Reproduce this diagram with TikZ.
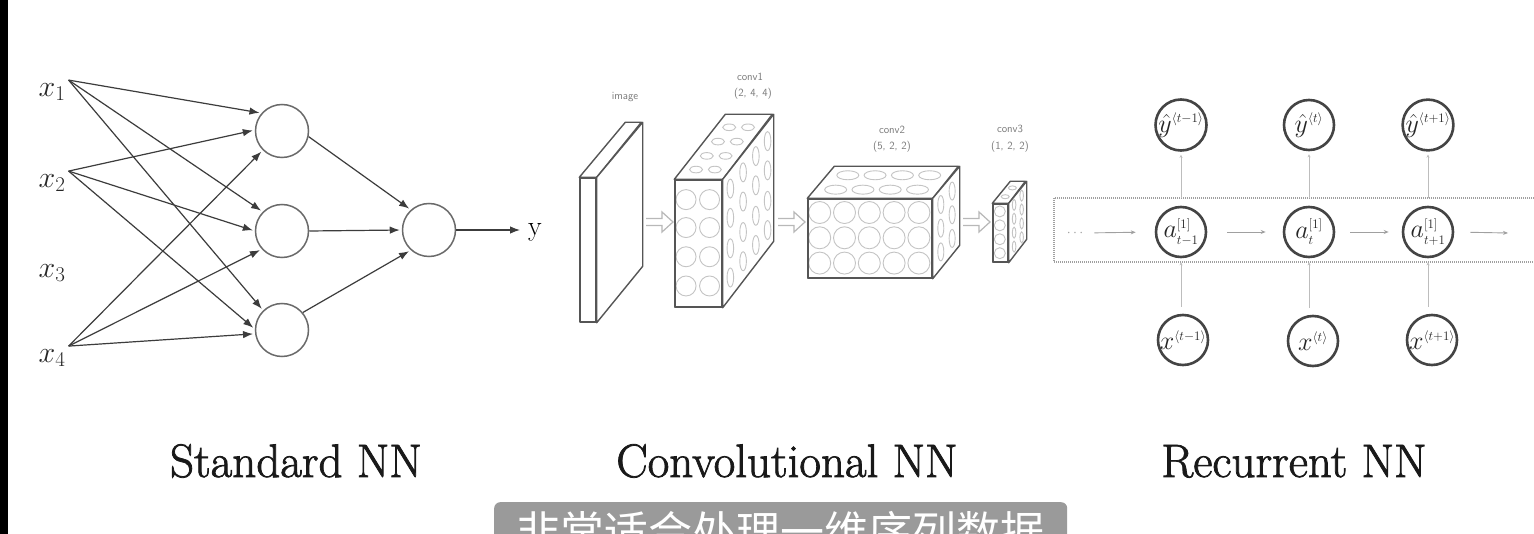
\RequirePackage{fix-cm}
\documentclass[tikz,border=0pt]{standalone}
\usepackage{fontspec}
\newfontfamily\cjk{Noto Sans CJK SC}
\newfontfamily\titlefont{Latin Modern Roman}[FakeBold=1.6]
\usetikzlibrary{arrows.meta,calc}
\DeclareMathSizes{30}{30}{21}{15}
\DeclareMathSizes{26}{26}{13}{10}
\definecolor{nline}{HTML}{3C3C3C}
\definecolor{ncirc}{HTML}{6A6A6A}
\definecolor{cedge}{HTML}{555555}
\definecolor{ccell}{HTML}{C4C4C4}
\definecolor{clabc}{HTML}{7A7A7A}
\definecolor{harrowc}{HTML}{B8B8B8}
\definecolor{rcirc}{HTML}{444444}
\definecolor{rthin}{HTML}{A0A0A0}
\definecolor{capfill}{HTML}{9A9A9A}
\begin{document}
\begin{tikzpicture}[x=1pt,y=-1pt,
  inlab/.style={inner sep=3pt, font=\fontsize{30}{34}\selectfont, text=black!85},
  neuron/.style={circle, draw=ncirc, line width=1.5pt, minimum size=53pt, inner sep=0pt},
  syn/.style={draw=nline, line width=1.2pt, -{Latex[length=10pt,width=7.5pt]}, shorten >=2pt},
  face/.style={draw=cedge, line width=1.4pt, fill=white, line join=round},
  frontface/.style={face, rectangle, inner sep=0pt},
  cell/.style={draw=ccell, line width=0.9pt},
  clab/.style={font=\sffamily\fontsize{11}{13}\selectfont, text=clabc, inner sep=0pt},
  hollow/.style={draw=harrowc, line width=1.2pt, line join=miter},
  title/.style={font=\titlefont\fontsize{47}{56}\selectfont, text=black!90, anchor=base, inner sep=0pt},
  rnode/.style={circle, draw=rcirc, line width=2.6pt, minimum size=50pt, inner sep=0pt, text=black!85, font=\fontsize{26}{30}\selectfont},
  rarr/.style={draw=rthin, line width=0.9pt, -{Stealth[length=5pt,width=4pt]}},
  rvert/.style={draw=rthin!70, line width=0.8pt, -{Stealth[length=3pt,width=3pt]}},
  rdot/.style={draw=rthin, line width=1.2pt, dash pattern=on 1pt off 1pt},
]
\useasboundingbox (0,0) rectangle (1534,534);
\clip (0,0) rectangle (1534,534);
\fill[white] (0,0) rectangle (1534,534);
\fill[black] (0,0) rectangle (8,534);

% ---------------- Standard NN ----------------
\node[inlab] (x1) at (52,92) {$x_1$};
\node[inlab] (x2) at (52,183) {$x_2$};
\node[inlab] (x3) at (52,273) {$x_3$};
\node[inlab] (x4) at (52,358) {$x_4$};
\node[neuron] (h1) at (282,131) {};
\node[neuron] (h2) at (282,231) {};
\node[neuron] (h3) at (282,330) {};
\node[neuron] (o) at (429,230) {};
\node[inner sep=0pt, font=\fontsize{28}{32}\selectfont] (ylab) at (535,232) {y};

\draw[syn] (x1.north east) -- (h1.139);
\draw[syn] (x1.north east) -- (h2.135);
\draw[syn] (x1.north east) -- (h3.134);
\draw[syn] (x2.north east) -- (h1.178);
\draw[syn] (x2.north east) -- (h2.180);
\draw[syn] (x2.north east) -- (h3.178);
\draw[syn] (x4.north east) -- (h1.225);
\draw[syn] (x4.north east) -- (h2.222);
\draw[syn] (x4.north east) -- (h3.188);
\draw[syn] (h1.-12) -- (o.132);
\draw[syn] (h2.east) -- (o.west);
\draw[syn] (h3.40) -- (o.228);
\draw[syn, shorten >=8pt] (o.east) -- (o.east -| ylab.west);

% ---------------- Convolutional NN ----------------
% image slab
\node[frontface, minimum width=16pt, minimum height=144pt] (img) at (588,250) {};
\draw[face] (img.north west) -- ++(46,-55) -- ++(16,0) -- (img.north east) -- cycle;
\draw[face] (img.north east) -- ++(46,-55) -- ++(0,144) -- (img.south east) -- cycle;

% conv1
\node[frontface, minimum width=47pt, minimum height=127pt] (c1) at (698.5,243.5) {};
\draw[face] (c1.north west) -- ++(51,-65) -- ++(47,0) -- (c1.north east) -- cycle;
\draw[face] (c1.north east) -- ++(51,-65) -- ++(0,127) -- (c1.south east) -- cycle;
\foreach \p in {0.25,0.75}
  \foreach \q in {0.16,0.38,0.61,0.84}
    \draw[cell] ($(c1.north west)+(\p*47,\q*127)$) circle[radius=10pt];
\foreach \p in {0.3,0.7}
  \foreach \q in {0.15,0.36,0.58,0.8}
    \draw[cell] ($(c1.north west)+(\p*47+\q*51,-\q*65)$) ellipse[x radius=6.5pt, y radius=3.3pt];
\foreach \p in {0.15,0.4,0.65,0.88}
  \foreach \q in {0.15,0.38,0.62,0.85}
    \draw[cell] ($(c1.north east)+(\p*51,-\p*65+\q*127)$) ellipse[x radius=3.3pt, y radius=9.5pt];
\node[frontface, fill=none, minimum width=47pt, minimum height=127pt] at (c1) {};

% conv2
\node[frontface, minimum width=124pt, minimum height=79pt] (c2) at (870,238.5) {};
\draw[face] (c2.north west) -- ++(27,-32) -- ++(124,0) -- (c2.north east) -- cycle;
\draw[face] (c2.north east) -- ++(27,-32) -- ++(0,79) -- (c2.south east) -- cycle;
\foreach \p in {0.1,0.3,0.5,0.7,0.9}
  \foreach \q in {0.18,0.5,0.82}
    \draw[cell] ($(c2.north west)+(\p*124,\q*79)$) circle[radius=11pt];
\foreach \p in {0.17,0.39,0.61,0.83}
  \foreach \q in {0.27,0.72}
    \draw[cell] ($(c2.north west)+(\p*124+\q*27,-\q*32)$) ellipse[x radius=11pt, y radius=4.5pt];
\foreach \p in {0.3,0.72}
  \foreach \q in {0.2,0.5,0.8}
    \draw[cell] ($(c2.north east)+(\p*27,-\p*32+\q*79)$) ellipse[x radius=3pt, y radius=9pt];
\node[frontface, fill=none, minimum width=124pt, minimum height=79pt] at (c2) {};

% conv3
\node[frontface, minimum width=15pt, minimum height=58pt] (c3) at (1000.5,233) {};
\draw[face] (c3.north west) -- ++(18,-22) -- ++(15,0) -- (c3.north east) -- cycle;
\draw[face] (c3.north east) -- ++(18,-22) -- ++(0,58) -- (c3.south east) -- cycle;
\foreach \q in {0.14,0.38,0.62,0.86}
  \draw[cell] ($(c3.north west)+(7.5,\q*58)$) circle[radius=5.5pt];
\foreach \q in {0.3,0.7}
  \draw[cell] ($(c3.north west)+(7.5+\q*18,-\q*22)$) ellipse[x radius=4pt, y radius=2pt];
\foreach \p in {0.3,0.72}
  \foreach \q in {0.14,0.38,0.62,0.86}
    \draw[cell] ($(c3.north east)+(\p*18,-\p*22+\q*58)$) ellipse[x radius=1.8pt, y radius=5.5pt];
\node[frontface, fill=none, minimum width=15pt, minimum height=58pt] at (c3) {};

% labels
\node[clab] (limg) at (625,97) {image};
\node[clab] (lc1a) at (750,77) {conv1};
\node[clab] (lc1b) at (753,94) {(2, 4, 4)};
\node[clab] (lc2a) at (892,130) {conv2};
\node[clab] (lc2b) at (892,147) {(5, 2, 2)};
\node[clab] (lc3a) at (1010,129) {conv3};
\node[clab] (lc3b) at (1010,147) {(1, 2, 2)};

% hollow arrows (open block arrows between the layers)
\coordinate (ha1s) at (646,222);
\coordinate (ha2s) at (778,222);
\coordinate (ha3s) at (963,222);
\foreach \s in {ha1s,ha2s,ha3s}
  \draw[hollow] (\s) ++(0,-3.5) -- ++(16,0) -- ++(0,-6.5) -- ++(11,10) -- ++(-11,10) -- ++(0,-6.5) -- ++(-16,0);

% ---------------- Recurrent NN ----------------
\draw[rdot] (1570,198) -- (1054,198) -- (1054,262) -- (1570,262);
\node[rnode] (yh1) at (1181,125) {$\hat y^{\langle t-1\rangle}$};
\node[rnode] (yh2) at (1309,125) {$\hat y^{\langle t\rangle}$};
\node[rnode] (yh3) at (1428,125) {$\hat y^{\langle t+1\rangle}$};
\node[rnode] (a1) at (1181,232) {$a^{[1]}_{t-1}$};
\node[rnode] (a2) at (1309,232) {$a^{[1]}_{t}$};
\node[rnode] (a3) at (1428,232) {$a^{[1]}_{t+1}$};
\node[rnode] (xx1) at (1183,340) {$x^{\langle t-1\rangle}$};
\node[rnode] (xx2) at (1313,341) {$x^{\langle t\rangle}$};
\node[rnode] (xx3) at (1432,340) {$x^{\langle t+1\rangle}$};
\node[inner sep=1pt, text=rthin, font=\fontsize{14}{16}\selectfont] (dots) at (1075,233) {$\cdots$};
\coordinate (aend) at (1508,233);

\draw[rarr, shorten <=10pt, shorten >=19pt] (dots.east) -- (a1.west);
\draw[rarr, shorten <=20pt, shorten >=17pt] (a1.east) -- (a2.west);
\draw[rarr, shorten <=15pt, shorten >=13pt] (a2.east) -- (a3.west);
\draw[rarr, shorten <=16pt] (a3.east) -- (aend);

\draw[rvert, shorten <=8pt, shorten >=3pt] (a1.north) -- (yh1.south);
\draw[rvert, shorten <=8pt, shorten >=3pt] (a2.north) -- (yh2.south);
\draw[rvert, shorten <=8pt, shorten >=3pt] (a3.north) -- (yh3.south);
\draw[rvert, shorten <=7pt, shorten >=4pt] (a1 |- xx1.north) -- (a1.south);
\draw[rvert, shorten <=7pt, shorten >=4pt] (a2 |- xx2.north) -- (a2.south);
\draw[rvert, shorten <=7pt, shorten >=4pt] (a3 |- xx3.north) -- (a3.south);

% ---------------- Titles ----------------
\node[title] (t1) at (296,477) {Standard NN};
\node[title] (t2) at (787,477) {Convolutional NN};
\node[title] (t3) at (1294,477) {Recurrent NN};

% ---------------- Caption ----------------
\node[fill=capfill, rounded corners=6pt, anchor=north west, minimum width=573pt, minimum height=60pt,
      inner sep=0pt, text=white, font=\cjk\fontsize{44}{50}\selectfont] (cap) at (494,502) {非常适合处理一维序列数据};
\end{tikzpicture}
\end{document}
